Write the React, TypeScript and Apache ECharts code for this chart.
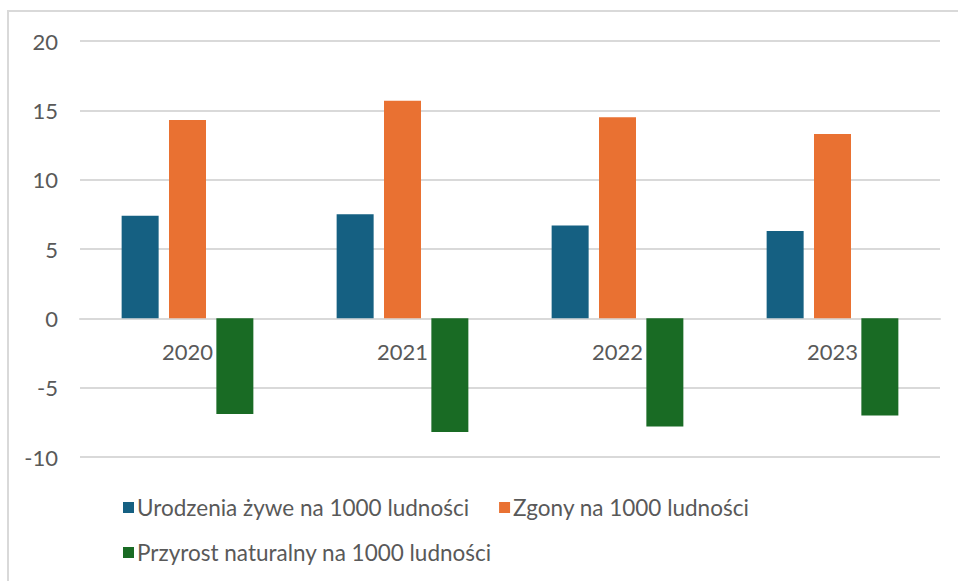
import React, { useEffect, useRef } from "react";
import * as echarts from "echarts";

const categories = ["2020", "2021", "2022", "2023"];
const births = [7.4, 7.5, 6.7, 6.3];
const deaths = [14.3, 15.7, 14.5, 13.3];
const natural = [-6.9, -8.2, -7.8, -7.0];
const seriesNames = [
  "Urodzenia żywe na 1000 ludności",
  "Zgony na 1000 ludności",
  "Przyrost naturalny na 1000 ludności",
];

const FONT = "Lato, 'Noto Sans', sans-serif";
const TEXT = "#595959";
const FS = 22;
const LFS = 22.5;

export default function App() {
  const ref = useRef<HTMLDivElement>(null);
  useEffect(() => {
    if (!ref.current) return;
    const chart = echarts.init(ref.current, null, { renderer: "svg" });
    chart.setOption({
      animation: false,
      backgroundColor: "#ffffff",
      textStyle: { fontFamily: FONT },
      graphic: [
        {
          type: "rect",
          shape: { x: 8, y: 11, width: 1000, height: 620 },
          style: { fill: "none", stroke: "#d9d9d9", lineWidth: 2 },
          silent: true,
        },
      ],
      grid: { left: 80, right: 18, top: 41, bottom: 124, containLabel: false },
      legend: [
        {
          data: [seriesNames[0], seriesNames[1]],
          left: 118,
          top: 491,
          icon: "rect",
          itemWidth: 11,
          itemHeight: 11,
          itemGap: 30,
          textStyle: { color: TEXT, fontSize: LFS, fontFamily: FONT, padding: [0, 0, 0, -2] },
        },
        {
          data: [seriesNames[2]],
          left: 118,
          top: 536,
          icon: "rect",
          itemWidth: 11,
          itemHeight: 11,
          textStyle: { color: TEXT, fontSize: LFS, fontFamily: FONT, padding: [0, 0, 0, -2] },
        },
      ],
      xAxis: {
        type: "category",
        data: categories,
        offset: -138.67,
        axisLine: { onZero: false, lineStyle: { color: "#d9d9d9", width: 2 } },
        axisTick: { show: false },
        axisLabel: { color: TEXT, fontSize: FS, fontFamily: FONT, margin: 22 },
      },
      yAxis: {
        type: "value",
        min: -10,
        max: 20,
        interval: 5,
        axisLine: { show: false },
        axisTick: { show: false },
        axisLabel: { color: TEXT, fontSize: FS, fontFamily: FONT, margin: 22 },
        splitLine: { lineStyle: { color: "#d9d9d9", width: 2 } },
      },
      series: [
        {
          name: seriesNames[0],
          type: "bar",
          data: births,
          barWidth: 37,
          barGap: "28%",
          itemStyle: { color: "#156082" },
        },
        {
          name: seriesNames[1],
          type: "bar",
          data: deaths,
          barWidth: 37,
          barGap: "28%",
          itemStyle: { color: "#E97132" },
        },
        {
          name: seriesNames[2],
          type: "bar",
          data: natural,
          barWidth: 37,
          barGap: "28%",
          itemStyle: { color: "#196B24" },
        },
      ],
    });
    return () => chart.dispose();
  }, []);
  return (
    <div
      ref={ref}
      style={{ position: "fixed", left: 0, top: 0, width: 958, height: 581 }}
    />
  );
}
